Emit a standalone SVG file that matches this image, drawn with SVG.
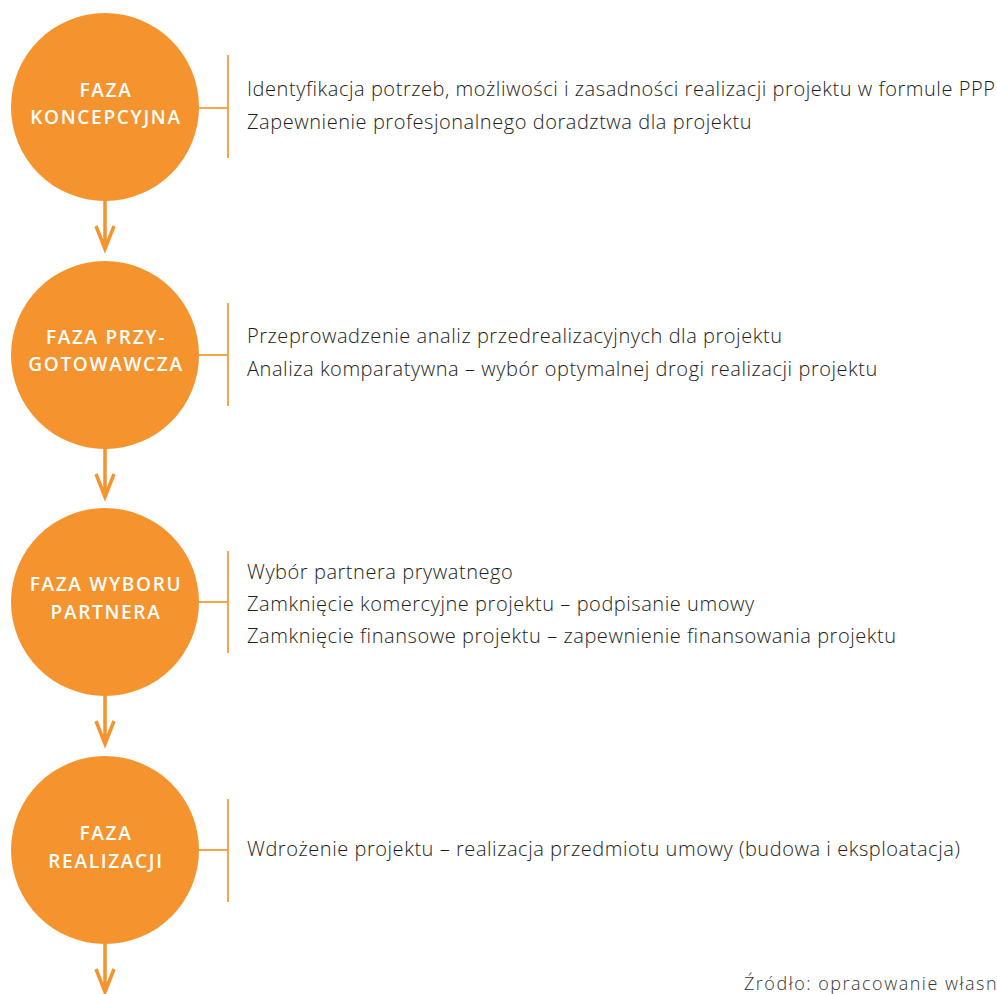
<svg xmlns="http://www.w3.org/2000/svg" width="997" height="994" viewBox="0 0 997 994">
<defs>
<style>
.c{fill:#F5942E}
.t{fill:#fff;font-family:"Open Sans","Liberation Sans",sans-serif;font-weight:600;font-size:19px;letter-spacing:1.7px;text-anchor:middle}
.d{fill:#1d1d1b;font-family:"Open Sans","Liberation Sans",sans-serif;font-weight:300;font-size:20px;letter-spacing:0.55px}
.b{stroke:#F6A54C;stroke-width:2;fill:none}
.a{stroke:#F5942E;stroke-width:3.5;fill:none}
.s{fill:#333;font-family:"Open Sans","Liberation Sans",sans-serif;font-weight:300;font-size:18px;letter-spacing:1.5px}
</style>
</defs>
<rect width="997" height="994" fill="#fff"/>
<g id="connectors">
<path class="b" d="M199 108H228M228 55V158"/>
<path class="b" d="M199 355H228M228 303V406"/>
<path class="b" d="M199 602H228M228 551V653"/>
<path class="b" d="M199 850H228M228 799V902"/>
<path class="a" d="M105 200V248M96 226L105 249L114 226"/>
<path class="a" d="M105 448V496M96 474L105 497L114 474"/>
<path class="a" d="M105 695V743M96 721L105 744L114 721"/>
<path class="a" d="M105 943V991M96 969L105 992L114 969"/>
</g>
<g id="n1">
<circle class="c" cx="105" cy="107" r="94"/>
<text class="t" x="106" y="97">FAZA</text>
<text class="t" x="106" y="124">KONCEPCYJNA</text>
<text class="d" x="247" y="96">Identyfikacja potrzeb, możliwości i zasadności realizacji projektu w formule PPP</text>
<text class="d" x="247" y="129">Zapewnienie profesjonalnego doradztwa dla projektu</text>
</g>
<g id="n2">
<circle class="c" cx="105" cy="355" r="94"/>
<text class="t" x="106" y="344">FAZA PRZY-</text>
<text class="t" x="106" y="371">GOTOWAWCZA</text>
<text class="d" x="247" y="343">Przeprowadzenie analiz przedrealizacyjnych dla projektu</text>
<text class="d" x="247" y="376">Analiza komparatywna – wybór optymalnej drogi realizacji projektu</text>
</g>
<g id="n3">
<circle class="c" cx="105" cy="602" r="94"/>
<text class="t" x="106" y="591">FAZA WYBORU</text>
<text class="t" x="106" y="619">PARTNERA</text>
<text class="d" x="247" y="579">Wybór partnera prywatnego</text>
<text class="d" x="247" y="611">Zamknięcie komercyjne projektu – podpisanie umowy</text>
<text class="d" x="247" y="643">Zamknięcie finansowe projektu – zapewnienie finansowania projektu</text>
</g>
<g id="n4">
<circle class="c" cx="105" cy="850" r="94"/>
<text class="t" x="106" y="840">FAZA</text>
<text class="t" x="106" y="868">REALIZACJI</text>
<text class="d" x="247" y="856">Wdrożenie projektu – realizacja przedmiotu umowy (budowa i eksploatacja)</text>
</g>
<text class="s" x="744" y="990">Źródło: opracowanie własn</text>
</svg>
